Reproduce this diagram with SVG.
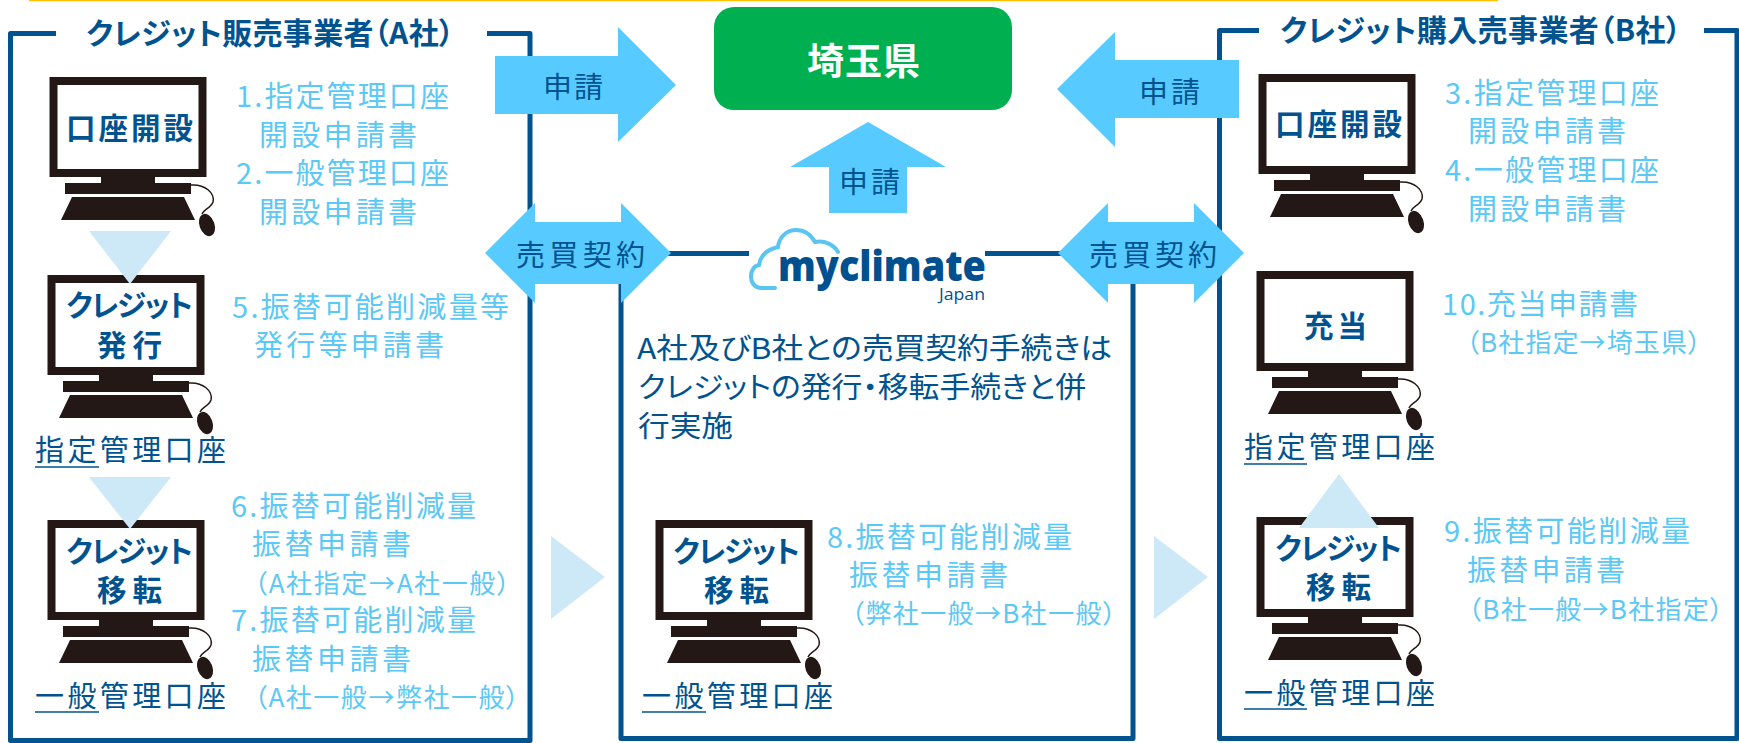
<svg xmlns="http://www.w3.org/2000/svg" xmlns:xlink="http://www.w3.org/1999/xlink" width="1739" height="743" viewBox="0 0 1739 743">
<style>
text{font-family:"Noto Sans CJK JP","Noto Sans",sans-serif}
.lb{fill:#5BC8F5;font-size:29px}
.ls{fill:#5BC8F5;font-size:26px;font-feature-settings:"palt"}
.db{fill:#00538F;font-size:29px}
.pa{fill:#00538F;font-size:29px;font-feature-settings:"palt"}
.bd{fill:#00538F;font-size:29.5px;font-weight:700;font-feature-settings:"palt"}
.tt{fill:#00538F;font-size:30px;font-weight:700;font-feature-settings:"palt"}
.box{fill:none;stroke:#00538F;stroke-width:5;stroke-linejoin:round}
.ul{stroke:#00538F;stroke-width:1.5}
.ba{fill:#57CBFF}
.tr{fill:#CDE9F7}
</style>
<defs>
<g id="pc">
<rect x="3.5" y="4" width="149" height="92" fill="#fff" stroke="#231815" stroke-width="8"/>
<path fill="#231815" d="M51 100H105V107H51ZM15 106H141V117H15ZM22 120H134L145 143H11Z"/>
<path fill="none" stroke="#231815" stroke-width="1.5" d="M141 108C155 107 165 116 163 125C161 131 154 132 152 137"/>
<ellipse cx="157" cy="148" rx="7.5" ry="11.5" fill="#231815" transform="rotate(-20 157 148)"/>
</g>
</defs>
<rect width="1739" height="743" fill="#fff"/>
<rect x="29" y="0" width="1469" height="1.2" fill="#FFC000"/>

<g id="company-a">
<path class="box" d="M56 33.5H10.5V740.5H530V33.5H487"/>
<text class="tt" x="86" y="44" textLength="368">クレジット販売事業者（A社）</text>
</g>
<g id="broker">
<path class="box" d="M749 253.5H621V738.5H1133V253.5H985"/>
</g>
<g id="company-b">
<path class="box" d="M1259 30.5H1219.5V738.5H1737V30.5H1704"/>
<text class="tt" x="1280" y="41" textLength="401">クレジット購入売事業者（B社）</text>
</g>

<g id="saitama">
<rect x="714" y="7" width="298" height="103" rx="20" fill="#00B050"/>
<text x="807" y="75" font-size="37" font-weight="700" fill="#fff" textLength="113">埼玉県</text>
</g>

<g id="myclimate-logo">
<path fill="none" stroke="#5BC4F1" stroke-width="4" stroke-linecap="round" d="M775 288H762C754 288 751 282 751 277C751 270 754 266 759 265C760 258 765 250 778 247C779 237 787 230 796 230C804 230 811 235 815 242C825 240 834 245 838 252"/>
<text x="778" y="281" font-size="43" font-weight="800" fill="#00508F" style="font-family:'Open Sans',sans-serif" textLength="208" lengthAdjust="spacingAndGlyphs">myclimate</text>
<text x="939" y="300" font-size="16" fill="#00508F" style="font-family:'Open Sans',sans-serif" textLength="46" lengthAdjust="spacingAndGlyphs">Japan</text>
</g>
<g id="broker-note">
<text class="pa" x="637" y="359" textLength="475" lengthAdjust="spacingAndGlyphs">A社及びB社との売買契約手続きは</text>
<text class="pa" x="638" y="398" textLength="448" lengthAdjust="spacingAndGlyphs">クレジットの発行・移転手続きと併</text>
<text class="pa" x="638" y="437" textLength="95" lengthAdjust="spacingAndGlyphs">行実施</text>
</g>

<g id="a-open">
<use xlink:href="#pc" href="#pc" x="50" y="77"/>
<text class="bd" x="66" y="139" textLength="127">口座開設</text>
<text class="lb" x="236" y="107" textLength="213">1.指定管理口座</text>
<text class="lb" x="259" y="146" textLength="158">開設申請書</text>
<text class="lb" x="236" y="184" textLength="213">2.一般管理口座</text>
<text class="lb" x="259" y="223" textLength="158">開設申請書</text>
</g>
<g id="a-issue">
<use xlink:href="#pc" href="#pc" x="48" y="275"/>
<text class="bd" x="66" y="316" textLength="127">クレジット</text>
<text class="bd" x="97" y="356" textLength="65">発行</text>
<text class="lb" x="232" y="318" textLength="277">5.振替可能削減量等</text>
<text class="lb" x="254" y="356" textLength="190">発行等申請書</text>
<text class="db" x="35" y="461" textLength="191">指定管理口座</text>
<line class="ul" x1="35" y1="467" x2="99" y2="467"/>
</g>
<g id="a-transfer">
<use xlink:href="#pc" href="#pc" x="48" y="520"/>
<text class="bd" x="66" y="562" textLength="127">クレジット</text>
<text class="bd" x="97" y="601" textLength="65">移転</text>
<text class="lb" x="231" y="517" textLength="245">6.振替可能削減量</text>
<text class="lb" x="252" y="555" textLength="159">振替申請書</text>
<text class="ls" x="254" y="593" textLength="256">（A社指定→A社一般）</text>
<text class="lb" x="231" y="631" textLength="245">7.振替可能削減量</text>
<text class="lb" x="252" y="670" textLength="159">振替申請書</text>
<text class="ls" x="254" y="707" textLength="265">（A社一般→弊社一般）</text>
<text class="db" x="35" y="707" textLength="191">一般管理口座</text>
<line class="ul" x1="35" y1="712" x2="99" y2="712"/>
</g>
<g id="m-transfer">
<use xlink:href="#pc" href="#pc" x="656" y="520"/>
<text class="bd" x="673" y="562" textLength="127">クレジット</text>
<text class="bd" x="704" y="601" textLength="65">移転</text>
<text class="lb" x="827" y="548" textLength="245">8.振替可能削減量</text>
<text class="lb" x="849" y="586" textLength="159">振替申請書</text>
<text class="ls" x="851" y="623" textLength="265">（弊社一般→B社一般）</text>
<text class="db" x="642" y="707" textLength="191">一般管理口座</text>
<line class="ul" x1="642" y1="712" x2="706" y2="712"/>
</g>
<g id="b-open">
<use xlink:href="#pc" href="#pc" x="1259" y="74"/>
<text class="bd" x="1275" y="135" textLength="127">口座開設</text>
<text class="lb" x="1445" y="104" textLength="214">3.指定管理口座</text>
<text class="lb" x="1468" y="142" textLength="158">開設申請書</text>
<text class="lb" x="1445" y="181" textLength="214">4.一般管理口座</text>
<text class="lb" x="1468" y="220" textLength="158">開設申請書</text>
</g>
<g id="b-offset">
<use xlink:href="#pc" href="#pc" x="1257" y="271"/>
<text class="bd" x="1304" y="337" textLength="63">充当</text>
<text class="lb" x="1442" y="315" textLength="196">10.充当申請書</text>
<text class="ls" x="1466" y="352" textLength="235">（B社指定→埼玉県）</text>
<text class="db" x="1244" y="458" textLength="191">指定管理口座</text>
<line class="ul" x1="1244" y1="464" x2="1307" y2="464"/>
</g>
<g id="b-transfer">
<use xlink:href="#pc" href="#pc" x="1257" y="517"/>
<text class="bd" x="1275" y="559" textLength="127">クレジット</text>
<text class="bd" x="1306" y="598" textLength="65">移転</text>
<text class="lb" x="1444" y="542" textLength="246">9.振替可能削減量</text>
<text class="lb" x="1467" y="581" textLength="158">振替申請書</text>
<text class="ls" x="1468" y="619" textLength="255">（B社一般→B社指定）</text>
<text class="db" x="1244" y="704" textLength="191">一般管理口座</text>
<line class="ul" x1="1244" y1="709" x2="1307" y2="709"/>
</g>

<g id="connectors">
<polygon class="tr" points="89,231 171,231 130,284"/>
<polygon class="tr" points="89,477 171,477 130,529"/>
<polygon class="tr" points="1299,528 1379,528 1339,474"/>
<polygon class="tr" points="551,536 605,577 551,619"/>
<polygon class="tr" points="1154,536 1208,577 1154,619"/>
<polygon class="ba" points="495,56 618,56 618,27 676,85 618,142 618,114 495,114"/>
<polygon class="ba" points="1239,60 1115,60 1115,32 1057,89 1115,147 1115,118 1239,118"/>
<polygon class="ba" points="868,122 946,167 907,167 907,213 829,213 829,167 790,167"/>
<polygon class="ba" points="485,253 535,203 535,222 621,222 621,203 671,253 621,303 621,284 535,284 535,303"/>
<polygon class="ba" points="1058,253 1108,203 1108,222 1194,222 1194,203 1244,253 1194,303 1194,284 1108,284 1108,303"/>
<text class="db" x="543" y="98" textLength="60">申請</text>
<text class="db" x="1139" y="103" textLength="61">申請</text>
<text class="db" x="839" y="193" textLength="61">申請</text>
<text class="db" x="516" y="266" textLength="129">売買契約</text>
<text class="db" x="1089" y="266" textLength="128">売買契約</text>
</g>
</svg>
